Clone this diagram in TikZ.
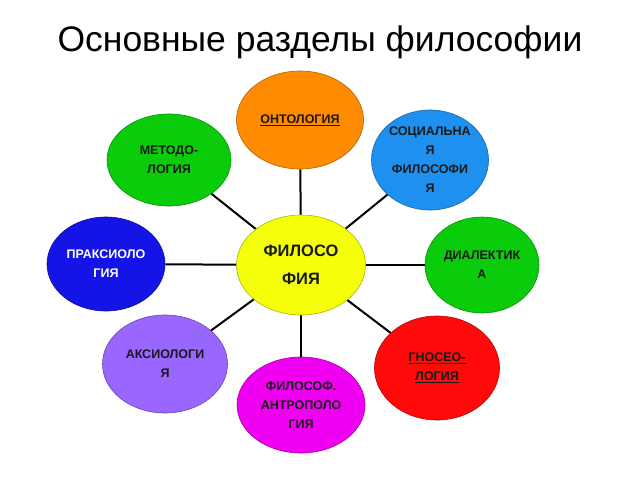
\documentclass[tikz,border=0pt]{standalone}
\usepackage{fontspec}
\setmainfont{Liberation Sans}
\usetikzlibrary{shapes.geometric}
\definecolor{cOrange}{HTML}{FF8C00}
\definecolor{cSky}{HTML}{1E90F0}
\definecolor{cGreen}{HTML}{0ACC0A}
\definecolor{cBlue}{HTML}{1414E6}
\definecolor{cViolet}{HTML}{9966FF}
\definecolor{cMagenta}{HTML}{F000F0}
\definecolor{cRed}{HTML}{FF0A0A}
\definecolor{cYellow}{HTML}{F5FF0A}
\tikzset{
  x=1pt,y=1pt,
  branch/.style={ellipse, draw=#1!70!black, line width=0.6pt, fill=#1, inner sep=0pt,
    align=center, font=\fontsize{12.5}{19}\selectfont\bfseries, text=black!90},
  link/.style={line width=2pt, black}
}
\begin{document}
\begin{tikzpicture}
\useasboundingbox[fill=white] (0,0) rectangle (640,-480);
\node (title) at (320,-42) {\fontsize{35.5}{40}\selectfont Основные разделы философии};
\coordinate (c0) at (301,-265);
\node[branch=cOrange, minimum width=127, minimum height=98] (ont) at (300,-120) {\underline{ОНТОЛОГИЯ}};
\node[branch=cSky, minimum width=117, minimum height=100] (soc) at (430,-160) {СОЦИАЛЬНА\\Я\\ФИЛОСОФИ\\Я};
\node[branch=cGreen, minimum width=124, minimum height=92] (met) at (169,-160) {МЕТОДО-\\ЛОГИЯ};
\node[branch=cBlue, minimum width=118, minimum height=94, text=white] (pra) at (106,-264) {ПРАКСИОЛО\\ГИЯ};
\node[branch=cGreen, minimum width=114, minimum height=96] (dia) at (482,-265) {ДИАЛЕКТИК\\А};
\node[branch=cViolet, minimum width=125, minimum height=98] (axi) at (165,-364) {АКСИОЛОГИ\\Я};
\node[branch=cRed, minimum width=125, minimum height=104] (gno) at (437,-368) {\underline{ГНОСЕО-}\\\underline{ЛОГИЯ}};
\node[branch=cMagenta, minimum width=128, minimum height=96] (ant) at (301,-405) {ФИЛОСОФ.\\АНТРОПОЛО\\ГИЯ};
\foreach \n in {ont,soc,met,pra,dia,axi,gno,ant}{
  \draw[link] (c0) -- (\n);
}
\node[branch=cYellow, minimum width=129, minimum height=100, font=\fontsize{16.5}{28}\selectfont\bfseries] (phi) at (c0) {ФИЛОСО\\ФИЯ};
\end{tikzpicture}
\end{document}
